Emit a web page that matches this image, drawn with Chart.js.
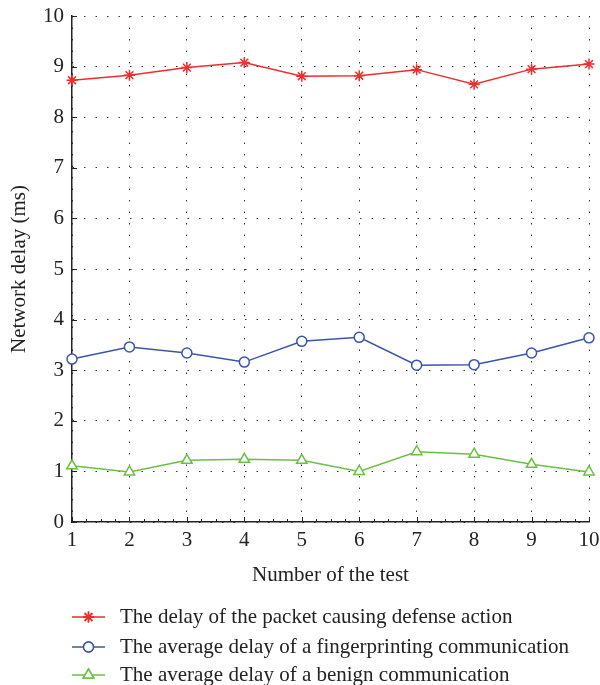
<!DOCTYPE html>
<html>
<head>
<meta charset="utf-8">
<script src="https://cdn.jsdelivr.net/npm/chart.js@4"></script>
<style>
    body{ margin:0; background:#fff; }
    #box{ width:600px; height:685px; }
</style>
</head>
<body>
<div id="box"><canvas id="grafico"></canvas></div>
<script>
// Dados

const testes = [1, 2, 3, 4, 5, 6, 7, 8, 9, 10]

const atrasoPacote = [8.73, 8.83, 8.98, 9.08, 8.81, 8.82, 8.94, 8.65, 8.95, 9.05]
const atrasoFingerprint = [3.22, 3.46, 3.34, 3.16, 3.57, 3.65, 3.10, 3.11, 3.34, 3.64]
const atrasoBenigno = [1.11, 0.99, 1.22, 1.24, 1.22, 1.00, 1.39, 1.34, 1.14, 0.99]

const nomes = [
    'The delay of the packet causing defense action',
    'The average delay of a fingerprinting communication',
    'The average delay of a benign communication'
]

const ticksY = [0, 1, 2, 3, 4, 5, 6, 7, 8, 9, 10]

const fonte = '"Liberation Serif", "DejaVu Serif", serif'
const cores = ['#ee2d2d', '#3b55a9', '#6cbf45']
const marcadores = ['star', 'circle', 'triangle']
const raios = [5.5, 5, 6]

function serie(i, valores){
    return {
        label: nomes[i],
        data: testes.map((t, j) => ({x: t, y: valores[j]})),
        borderColor: cores[i],
        borderWidth: 1.5,
        pointStyle: marcadores[i],
        pointRadius: raios[i],
        pointBorderWidth: 1.5,
        pointBorderColor: cores[i],
        pointBackgroundColor: '#fff',
        tension: 0,
        clip: false
    }
}

// ticks para dentro + legenda desenhada no canvas
const extras = {
    id: 'extras',
    afterDraw(chart){
        const ctx = chart.ctx
        const x = chart.scales.x
        const y = chart.scales.y
        const area = chart.chartArea

        ctx.save()
        ctx.strokeStyle = '#222'
        ctx.lineWidth = 1
        ctx.beginPath()
        for(let v = 1; v <= 10.001; v += 0.25){
            const px = Math.round(x.getPixelForValue(v)) + 0.5
            const tam = Math.abs(v - Math.round(v)) < 0.01 ? 5 : 3
            ctx.moveTo(px, area.bottom)
            ctx.lineTo(px, area.bottom - tam)
        }
        for(const v of ticksY){
            const py = Math.round(y.getPixelForValue(v)) + 0.5
            ctx.moveTo(area.left, py)
            ctx.lineTo(area.left + 5, py)
        }
        ctx.stroke()

        // legenda
        const linhasY = [617, 647, 675]
        chart.data.datasets.forEach((ds, i) => {
            const ly = linhasY[i]
            ctx.strokeStyle = ds.borderColor
            ctx.lineWidth = 1.5
            ctx.beginPath()
            ctx.moveTo(72, ly)
            ctx.lineTo(105, ly)
            ctx.stroke()

            Chart.helpers.drawPoint(ctx, {
                pointStyle: ds.pointStyle,
                radius: ds.pointRadius,
                borderWidth: 1.5
            }, 88.5, ly)
            ctx.fillStyle = '#fff'
            ctx.strokeStyle = ds.borderColor
            ctx.lineWidth = 1.5
            ctx.fill()
            ctx.stroke()

            ctx.fillStyle = '#222'
            ctx.font = '21px ' + fonte
            ctx.textAlign = 'left'
            ctx.textBaseline = 'middle'
            ctx.fillText(ds.label, 120, ly)
        })
        ctx.restore()
    }
}

new Chart(document.getElementById('grafico'), {
    type: 'line',
    data: {
        datasets: [
            serie(0, atrasoPacote),
            serie(1, atrasoFingerprint),
            serie(2, atrasoBenigno)
        ]
    },
    options: {
        responsive: true,
        maintainAspectRatio: false,
        animation: false,
        events: [],
        layout: {
            padding: {left: 7, right: 11, top: 16, bottom: 97}
        },
        plugins: {
            legend: {display: false},
            tooltip: {enabled: false}
        },
        scales: {
            x: {
                type: 'linear',
                min: 1,
                max: 10,
                ticks: {
                    stepSize: 1,
                    padding: 6,
                    color: '#222',
                    font: {family: fonte, size: 21}
                },
                grid: {
                    color: '#333',
                    lineWidth: 1,
                    drawTicks: false
                },
                border: {
                    display: true,
                    color: '#222',
                    width: 1.5,
                    dash: [1.5, 10]
                },
                title: {
                    display: true,
                    text: 'Number of the test',
                    color: '#222',
                    font: {family: fonte, size: 21},
                    padding: {top: 0, bottom: 0}
                },
                afterFit(scale){
                    scale.height = 66
                    scale.paddingLeft = 0
                    scale.paddingRight = 0
                }
            },
            y: {
                min: 0,
                max: 10,
                ticks: {
                    stepSize: 1,
                    padding: 8,
                    color: '#222',
                    font: {family: fonte, size: 21}
                },
                grid: {
                    color: '#333',
                    lineWidth: 1,
                    drawTicks: false
                },
                border: {
                    display: true,
                    color: '#222',
                    width: 1.5,
                    dash: [1.5, 10]
                },
                title: {
                    display: true,
                    text: 'Network delay (ms)',
                    color: '#222',
                    font: {family: fonte, size: 21},
                    padding: {top: 0, bottom: 0}
                },
                afterFit(scale){
                    scale.width = 65
                    scale.paddingTop = 0
                    scale.paddingBottom = 0
                }
            }
        }
    },
    plugins: [extras]
})
</script>
</body>
</html>
